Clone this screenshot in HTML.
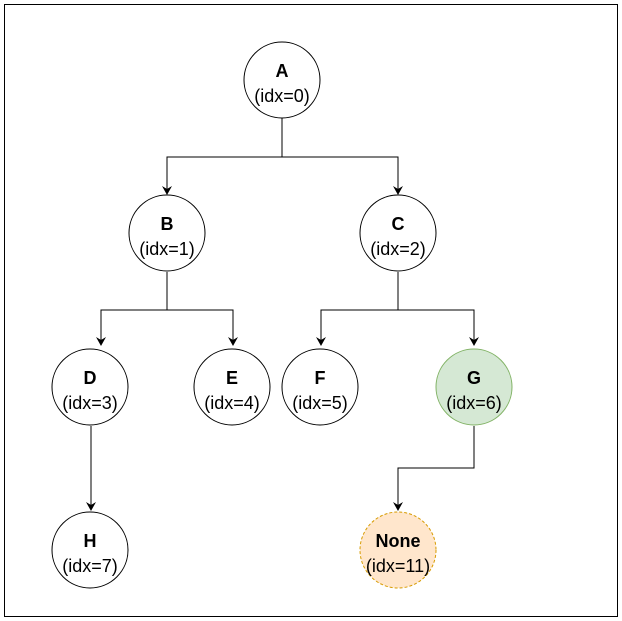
<!DOCTYPE html>
<html><head><style>body{margin:0;background:#fff}svg{display:block}text{font-family:"Liberation Sans",Arial,sans-serif;font-size:18px;text-anchor:middle}</style></head>
<body>
<svg width="622" height="621" viewBox="0 0 622 621">
<defs><marker id="ar" markerWidth="10" markerHeight="10" refX="8" refY="5" orient="auto" markerUnits="userSpaceOnUse"><path d="M0,0 L9,5 L0,10 L3,5 Z" fill="#000"/></marker></defs>
<rect x="4.5" y="4.5" width="613" height="612" fill="#fff" stroke="#000" stroke-width="1"/>
<g fill="none" stroke="#000" stroke-width="1">
<path d="M282,118 V157 H167 V194" marker-end="url(#ar)"/>
<path d="M282,157 H398 V194" marker-end="url(#ar)"/>
<path d="M167,272 V310 H101 V345" marker-end="url(#ar)"/>
<path d="M167,310 H233 V345" marker-end="url(#ar)"/>
<path d="M398,272 V310 H321 V345" marker-end="url(#ar)"/>
<path d="M398,310 H474 V345" marker-end="url(#ar)"/>
<path d="M91,426 V510" marker-end="url(#ar)"/>
<path d="M474,426 V468 H398 V510" marker-end="url(#ar)"/>
</g>
<g stroke="#000" fill="#fff">
<circle cx="282" cy="80" r="38"/>
<circle cx="167" cy="233" r="38"/>
<circle cx="398" cy="233" r="38"/>
<circle cx="90" cy="387" r="38"/>
<circle cx="232" cy="387" r="38"/>
<circle cx="320" cy="387" r="38"/>
<circle cx="90" cy="550" r="38"/>
</g>
<circle cx="474" cy="387" r="38" fill="#d5e8d4" stroke="#82b366"/>
<circle cx="398" cy="550" r="38" fill="#ffe6cc" stroke="#d79b00" stroke-dasharray="3,2"/>
<g>
<text x="282" y="77" font-weight="bold">A</text><text x="282" y="102">(idx=0)</text>
<text x="167" y="230" font-weight="bold">B</text><text x="167" y="255">(idx=1)</text>
<text x="398" y="230" font-weight="bold">C</text><text x="398" y="255">(idx=2)</text>
<text x="90" y="384" font-weight="bold">D</text><text x="90" y="409">(idx=3)</text>
<text x="232" y="384" font-weight="bold">E</text><text x="232" y="409">(idx=4)</text>
<text x="320" y="384" font-weight="bold">F</text><text x="320" y="409">(idx=5)</text>
<text x="474" y="384" font-weight="bold">G</text><text x="474" y="409">(idx=6)</text>
<text x="90" y="547" font-weight="bold">H</text><text x="90" y="572">(idx=7)</text>
<text x="398" y="547" font-weight="bold">None</text><text x="398" y="572">(idx=11)</text>
</g>
</svg>
</body></html>
